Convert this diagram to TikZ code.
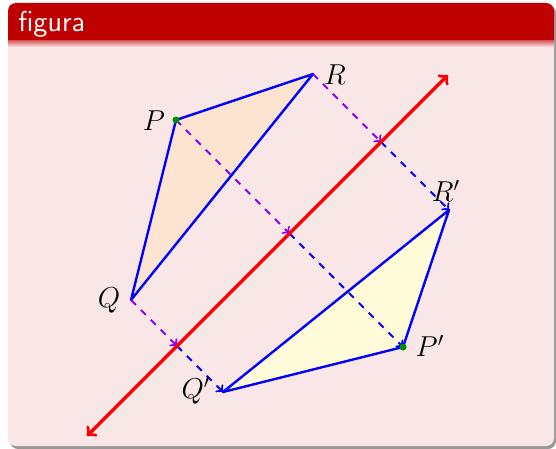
\documentclass[tikz,border=0pt]{standalone}
\usetikzlibrary{calc}
\definecolor{blockhead}{RGB}{191,0,0}
\definecolor{blockbody}{RGB}{249,230,230}
\definecolor{trifill}{RGB}{252,228,208}
\definecolor{imgfill}{RGB}{255,250,215}
\definecolor{perpviolet}{RGB}{136,0,255}
\begin{document}
\begin{tikzpicture}[x=0.5pt,y=-0.5pt,
  side/.style={blue,line width=1.2pt,line join=round},
  toaxis/.style={->,dash pattern=on 3.5pt off 3.5pt,perpviolet,line width=1pt},
  fromaxis/.style={->,dash pattern=on 3.5pt off 3.5pt,blue,line width=1pt},
  lbl/.style={font=\Large,inner sep=1pt}]
\useasboundingbox (0,0) rectangle (556,449);
\fill[black!40,rounded corners=4pt] (10,5) rectangle (556,449);
\fill[blockbody,rounded corners=4pt] (8,3) rectangle (554,446);
\fill[blockhead] (8,41) {[rounded corners=4pt] -- (8,3) -- (554,3)} -- (554,41) -- cycle;
\shade[top color=blockhead!55!blockbody,bottom color=blockbody] (8,41) rectangle (554,47);
\node[anchor=base west,text=white,font=\sffamily\fontsize{14.4}{16}\selectfont,inner sep=0pt] (title) at (18,32) {figura};

\coordinate (P) at (176,120);
\coordinate (Q) at (131,300);
\coordinate (R) at (313,74);
\coordinate (P1) at (403,347);
\coordinate (Q1) at (223,392);
\coordinate (R1) at (449,210);
\coordinate (a) at (87,436);
\coordinate (b) at (448,75);

\fill[trifill] (P)--(Q)--(R)--cycle;
\fill[imgfill] (P1)--(Q1)--(R1)--cycle;
\draw[side] (P)--(Q)--(R)--cycle;
\draw[side] (P1)--(Q1)--(R1)--cycle;

\foreach \p in {P,Q,R}{
  \coordinate (m\p) at ($(\p)!.5!(\p1)$);
  \draw[toaxis] (\p)--(m\p);
  \draw[fromaxis] (m\p)--(\p1);
}
\draw[<->,red,line width=1.6pt] (a)--(b);

\fill[green!55!black] (P) circle (3.5) (P1) circle (3.5);

\node[lbl] (lP) at (154,121) {$P$};
\node[lbl] (lQ) at (109,300) {$Q$};
\node[lbl] (lR) at (335,75) {$R$};
\node[lbl] (lP1) at (430,346) {$P'$};
\node[lbl] (lQ1) at (196,391) {$Q'$};
\node[lbl] (lR1) at (446,191) {$R'$};
\end{tikzpicture}
\end{document}
